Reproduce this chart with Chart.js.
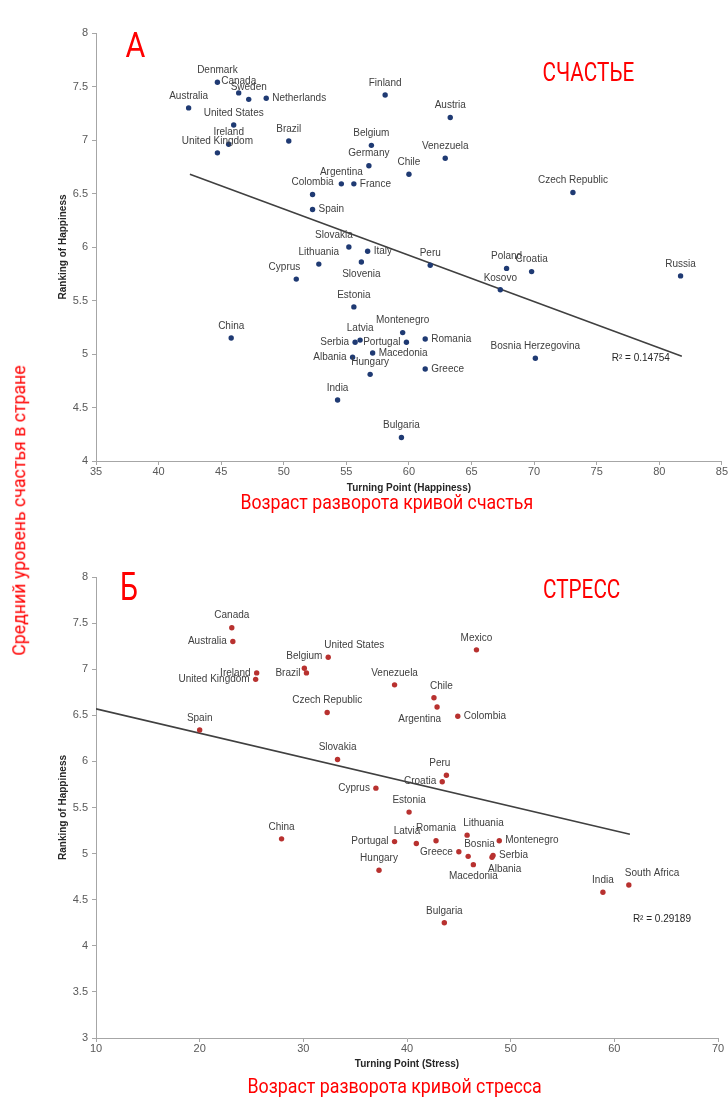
<!DOCTYPE html>
<html>
<head>
<meta charset="utf-8">
<script src="https://cdn.jsdelivr.net/npm/chart.js@4/dist/chart.umd.min.js"></script>
<style>
body { margin: 0; background: #fff; width: 728px; height: 1099px; position: relative; overflow: hidden; }
canvas { position: absolute; left: 0; }
.red { position: absolute; color: #ff0000; font-family: Roboto, sans-serif; white-space: nowrap; line-height: 1; transform-origin: 50% 50%; }
</style>
</head>
<body>
<canvas id="happy" width="728" height="530" style="top:0"></canvas>
<canvas id="stress" width="728" height="569" style="top:530px"></canvas>
<script>
// --- A: happiness turning point ---
const hapCountries = ['Denmark', 'Canada', 'Sweden', 'Netherlands', 'Australia', 'United States', 'Ireland', 'United Kingdom', 'Brazil', 'Finland',
	'Austria', 'Belgium', 'Germany', 'Venezuela', 'Chile', 'Argentina', 'France', 'Czech Republic', 'Colombia', 'Spain',
	'Slovakia', 'Italy', 'Slovenia', 'Lithuania', 'Cyprus', 'Peru', 'Poland', 'Croatia', 'Russia', 'Kosovo',
	'Estonia', 'China', 'Montenegro', 'Serbia', 'Latvia', 'Portugal', 'Romania', 'Albania', 'Macedonia', 'Bosnia Herzegovina',
	'Hungary', 'Greece', 'India', 'Bulgaria'];
const hapTurning = [44.7, 46.4, 47.2, 48.6, 42.4, 46.0, 45.6, 44.7, 50.4, 58.1,
	63.3, 57.0, 56.8, 62.9, 60.0, 54.6, 55.6, 73.1, 52.3, 52.3,
	55.2, 56.7, 56.2, 52.8, 51.0, 61.7, 67.8, 69.8, 81.7, 67.3,
	55.6, 45.8, 59.5, 55.7, 56.1, 59.8, 61.3, 55.5, 57.1, 70.1,
	56.9, 61.3, 54.3, 59.4];
const hapRank = [7.54, 7.44, 7.38, 7.39, 7.30, 7.14, 6.96, 6.88, 6.99, 7.42,
	7.21, 6.95, 6.76, 6.83, 6.68, 6.59, 6.59, 6.51, 6.49, 6.35,
	6.00, 5.96, 5.86, 5.84, 5.70, 5.83, 5.80, 5.77, 5.73, 5.60,
	5.44, 5.15, 5.20, 5.11, 5.13, 5.11, 5.14, 4.97, 5.01, 4.96,
	4.81, 4.86, 4.57, 4.22];
// label placement: t=above, b=below, l=left, r=right, tl/tr/bl/br=corner
const hapLabelPos = ['t', 't', 't', 'r', 't', 't', 't', 't', 't', 't',
	't', 't', 't', 't', 't', 't', 'r', 't', 't', 'r',
	'tl', 'r', 'b', 't', 'tl', 't', 't', 't', 't', 't',
	't', 't', 't', 'l', 't', 'l', 'r', 'l', 'r', 't',
	't', 'r', 't', 't'];
const hapTrendX = [42.5, 81.8];
const hapTrendY = [6.68, 4.98];
const hapR2 = 'R² = 0.14754';

// --- Б: stress turning point ---
const strCountries = ['Canada', 'Australia', 'Ireland', 'United Kingdom', 'Belgium', 'Brazil', 'United States', 'Czech Republic', 'Spain', 'Venezuela',
	'Mexico', 'Chile', 'Argentina', 'Colombia', 'Slovakia', 'Cyprus', 'China', 'Peru', 'Croatia', 'Estonia',
	'Latvia', 'Portugal', 'Hungary', 'Romania', 'Greece', 'Lithuania', 'Bosnia', 'Macedonia', 'Albania', 'Serbia',
	'Montenegro', 'India', 'South Africa', 'Bulgaria'];
const strTurning = [23.1, 23.2, 25.5, 25.4, 30.1, 30.3, 32.4, 32.3, 20.0, 38.8,
	46.7, 42.6, 42.9, 44.9, 33.3, 37.0, 27.9, 43.8, 43.4, 40.2,
	40.9, 38.8, 37.3, 42.8, 45.0, 45.8, 45.9, 46.4, 48.2, 48.3,
	48.9, 58.9, 61.4, 43.6];
const strRank = [7.45, 7.30, 6.96, 6.89, 7.01, 6.96, 7.13, 6.53, 6.34, 6.83,
	7.21, 6.69, 6.59, 6.49, 6.02, 5.71, 5.16, 5.85, 5.78, 5.45,
	5.11, 5.13, 4.82, 5.14, 5.02, 5.20, 4.97, 4.88, 4.96, 4.98,
	5.14, 4.58, 4.66, 4.25];
const strLabelPos = ['t', 'l', 'l', 'l', 't', 'l', 'tr', 't', 't', 't',
	't', 'tr', 'bl', 'r', 't', 'l', 't', 'tl', 'l', 't',
	'tl', 'l', 't', 't', 'l', 'tr', 'tr', 'b', 'br', 'r',
	'r', 't', 'tr', 't'];
const strTrendX = [10, 61.5];
const strTrendY = [6.57, 5.21];
const strR2 = 'R² = 0.29189';

const FONT = '"Liberation Sans", Arial, sans-serif';
Chart.defaults.font.family = FONT;

function makeLabelPlugin(names, pos, r2, r2dx, r2dy, r2align) {
	return {
		id: 'pointLabels',
		afterDatasetsDraw(chart) {
			const ctx = chart.ctx;
			const pts = chart.getDatasetMeta(0).data;
			ctx.save();
			ctx.font = '10px ' + FONT;
			ctx.fillStyle = '#404040';
			ctx.textBaseline = 'middle';
			pts.forEach((pt, i) => {
				let x = pt.x, y = pt.y, align = 'center';
				const p = pos[i];
				if (p[0] === 't') y -= 12;
				if (p[0] === 'b') y += 12;
				if (p === 'l') { x -= 6; align = 'right'; }
				if (p === 'r') { x += 6; align = 'left'; }
				if (p.length === 2) {
					if (p[1] === 'l') { x += 4; align = 'right'; }
					else { x -= 4; align = 'left'; }
				}
				ctx.textAlign = align;
				ctx.fillText(names[i], x, y);
			});
			// R² next to the trend line end
			const tl = chart.getDatasetMeta(1).data;
			const end = tl[tl.length - 1];
			ctx.fillStyle = '#262626';
			ctx.textAlign = r2align;
			ctx.fillText(r2, end.x + r2dx, end.y + r2dy);
			ctx.restore();
		}
	};
}

function makeOptions(c) {
	const axisColor = '#a6a6a6';
	return {
		responsive: false,
		animation: false,
		layout: { padding: c.pad },
		plugins: { legend: { display: false }, tooltip: { enabled: false } },
		scales: {
			x: {
				type: 'linear', min: c.xMin, max: c.xMax,
				ticks: { stepSize: c.xStep, color: '#595959', font: { size: 11 }, padding: 0, maxRotation: 0, callback: v => String(v) },
				grid: { drawOnChartArea: false, color: axisColor, tickLength: 4 },
				border: { color: axisColor },
				title: { display: true, text: c.xTitle, color: '#262626', font: { size: 10, weight: 'bold' }, padding: { top: 0, bottom: 0 } },
				afterFit: s => { s.height = c.xAxisH; }
			},
			y: {
				type: 'linear', min: c.yMin, max: c.yMax,
				ticks: { stepSize: 0.5, color: '#595959', font: { size: 11 }, padding: 4, callback: v => String(v) },
				grid: { drawOnChartArea: false, color: axisColor, tickLength: 4 },
				border: { color: axisColor },
				title: { display: true, text: 'Ranking of Happiness', color: '#262626', font: { size: 10, weight: 'bold' }, padding: { top: 5, bottom: 0 } },
				afterFit: s => { s.width = 44; }
			}
		}
	};
}

function makeChart(id, xs, ys, trendX, trendY, color, opts, plugin) {
	return new Chart(document.getElementById(id), {
		type: 'scatter',
		data: {
			datasets: [
				{
					data: xs.map((x, i) => ({ x: x, y: ys[i] })),
					backgroundColor: color, borderColor: color,
					pointRadius: 2.7, borderWidth: 0, order: 0
				},
				{
					type: 'line',
					data: trendX.map((x, i) => ({ x: x, y: trendY[i] })),
					borderColor: '#404040', borderWidth: 1.6,
					pointRadius: 0, fill: false, order: 1
				}
			]
		},
		options: opts,
		plugins: [plugin]
	});
}

makeChart('happy', hapTurning, hapRank, hapTrendX, hapTrendY, '#1f3a73',
	makeOptions({ pad: { left: 52, right: 6, top: 33, bottom: 36 }, xMin: 35, xMax: 85, xStep: 5, yMin: 4, yMax: 8, xAxisH: 33, xTitle: 'Turning Point (Happiness)' }),
	makeLabelPlugin(hapCountries, hapLabelPos, hapR2, -12, 2, 'right'));

makeChart('stress', strTurning, strRank, strTrendX, strTrendY, '#b8312f',
	makeOptions({ pad: { left: 52, right: 10, top: 47, bottom: 29 }, xMin: 10, xMax: 70, xStep: 10, yMin: 3, yMax: 8, xAxisH: 32, xTitle: 'Turning Point (Stress)' }),
	makeLabelPlugin(strCountries, strLabelPos, strR2, 3, 85, 'left'));

// red Russian annotations
function redText(txt, cx, cy, w, size, vertical) {
	const el = document.createElement('div');
	el.className = 'red';
	el.textContent = txt;
	el.style.fontSize = size + 'px';
	document.body.appendChild(el);
	const nat = el.offsetWidth, h = el.offsetHeight;
	el.style.left = (cx - nat / 2) + 'px';
	el.style.top = (cy - h / 2) + 'px';
	el.style.transform = (vertical ? 'rotate(-90deg) ' : '') + 'scaleX(' + (w / nat) + ')';
}
redText('А', 135, 45.5, 20, 35);
redText('СЧАСТЬЕ', 588, 72, 92, 25);
redText('Б', 129, 587, 18, 38);
redText('СТРЕСС', 581.5, 589.5, 77, 25);
redText('Средний уровень счастья в стране', 18, 510, 290, 19, true);
redText('Возраст разворота кривой счастья', 386.5, 502, 293, 21);
redText('Возраст разворота кривой стресса', 394, 1086, 294, 21);
</script>
</body>
</html>
